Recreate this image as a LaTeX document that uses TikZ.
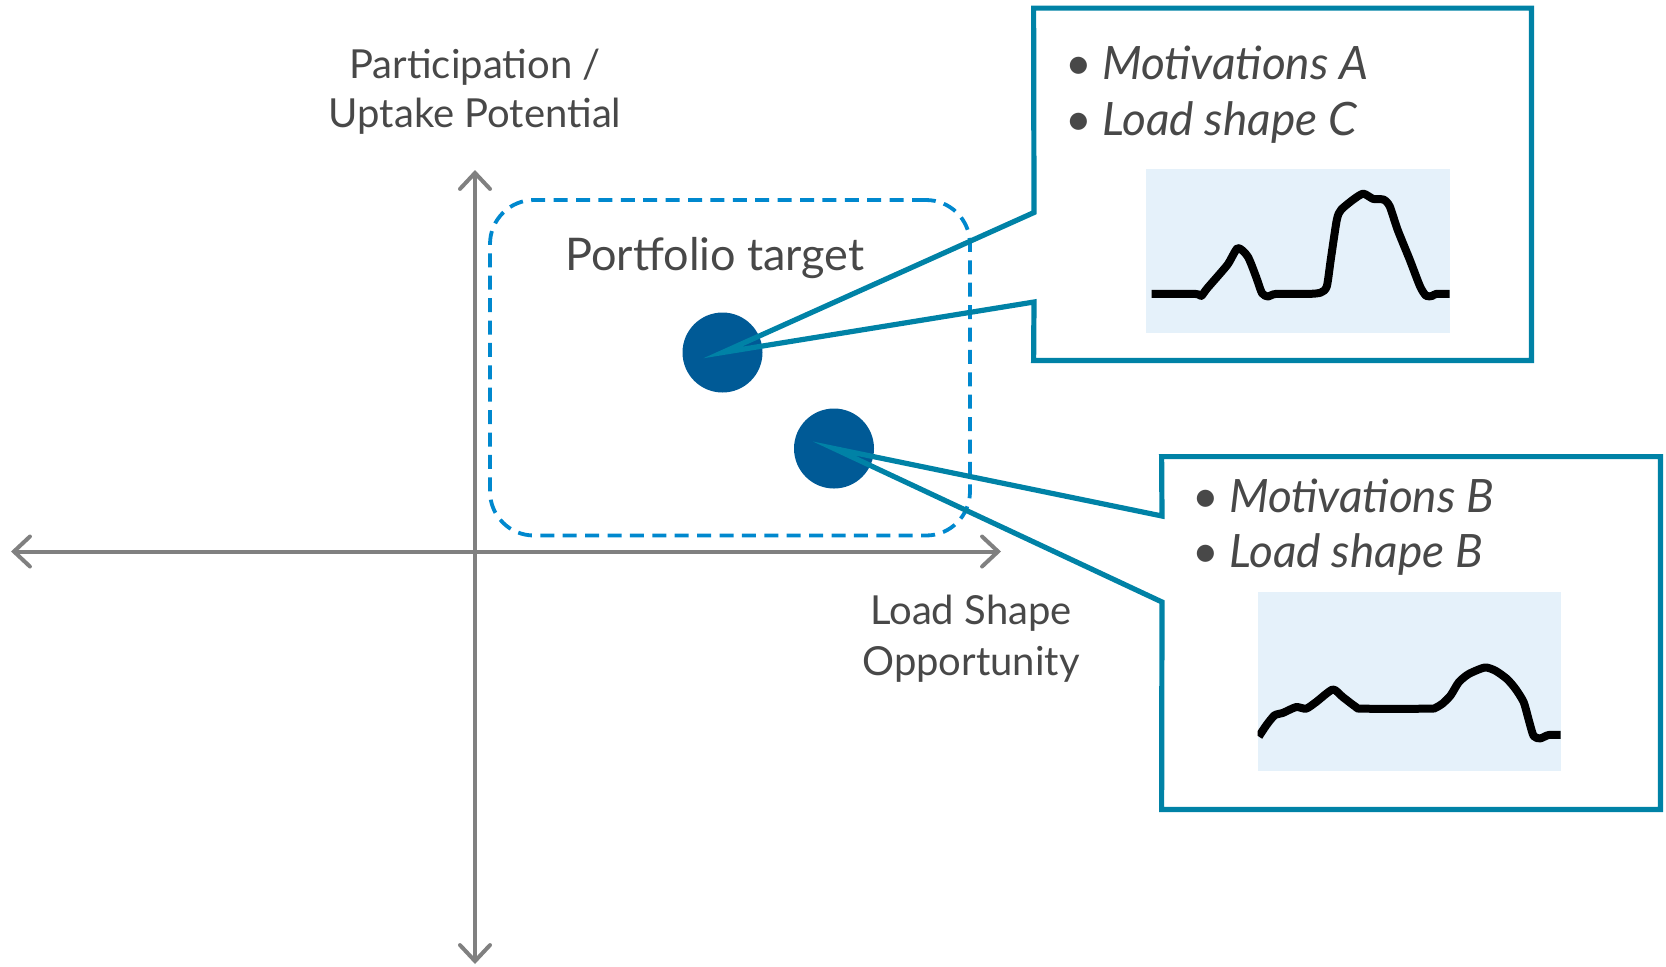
\documentclass[tikz,border=0pt]{standalone}
\usepackage{fontspec}
\setmainfont{Lato}
\usetikzlibrary{arrows.meta}
\definecolor{txtgray}{RGB}{72,72,72}
\definecolor{axisgray}{RGB}{128,128,128}
\definecolor{dashblue}{RGB}{0,136,206}
\definecolor{dotblue}{RGB}{0,90,150}
\definecolor{teal}{RGB}{0,130,166}
\definecolor{chartbg}{RGB}{229,241,250}
\begin{document}
\begin{tikzpicture}[x=0.5pt,y=-0.5pt,
  lbl/.style={text=txtgray, font=\fontsize{20}{24.5}\selectfont, align=center, inner sep=0},
  bullets/.style={text=txtgray, font=\fontsize{23}{28}\selectfont\itshape, align=left, inner sep=0, anchor=west},
  axis/.style={draw=axisgray, line width=2pt, {Straight Barb[length=8pt,width=15pt,line cap=round]}-{Straight Barb[length=8pt,width=15pt,line cap=round]}},
  target/.style={draw=dashblue, line width=1.9pt, dash pattern=on 7pt off 4.2pt, rounded corners=22pt, inner sep=0},
  dot/.style={circle, fill=dotblue, minimum size=40pt, inner sep=0},
  callout/.style={draw=teal, line width=2.6pt, line join=miter},
  chart/.style={fill=chartbg, inner sep=0},
  curve/.style={line width=4pt, line join=round, black}]
\useasboundingbox (0,0) rectangle (1666,966);

% axes
\coordinate (yT) at (475,170);
\coordinate (yB) at (475,964);
\coordinate (xL) at (11,551.5);
\coordinate (xR) at (1001,551.5);
\draw[axis] (yT) -- (yB);
\draw[axis] (xL) -- (xR);

\node[lbl] (ylab) at (475,91.5) {Participation /\\Uptake Potential};
\node[lbl, font=\fontsize{20}{25.5}\selectfont] (xlab) at (971,638.5) {Load Shape\\Opportunity};

% target region
\node[target, minimum width=240pt, minimum height=167.75pt] (region) at (730,367.75) {};
\node[lbl, font=\fontsize{22.5}{27}\selectfont] (rlab) at (715,258) {Portfolio target};

% segment dots
\node[dot] (dA) at (722.5,352.5) {};
\node[dot] (dB) at (834,448.5) {};

% callout A
\node[minimum width=248.5pt, minimum height=175.75pt, inner sep=0] (cA) at (1282.5,184.25) {};
\coordinate (nA1) at (1034,212.5);
\coordinate (nA2) at (1034,302);
\draw[callout] (nA1) -- (cA.north west) -- (cA.north east) -- (cA.south east)
  -- (cA.south west) -- (nA2) -- (dA.center) -- cycle;
\node[bullets] (tA) at (1065,95) {{\upshape\textbullet}\hspace{5pt}Motivations A\\{\upshape\textbullet}\hspace{5pt}Load shape C};

% callout B
\node[minimum width=249pt, minimum height=176pt, inner sep=0] (cB) at (1411,633) {};
\coordinate (nB1) at (1162,516);
\coordinate (nB2) at (1162,602);
\draw[callout] (nB1) -- (cB.north west) -- (cB.north east) -- (cB.south east)
  -- (cB.south west) -- (nB2) -- (dB.center) -- cycle;
\node[bullets, font=\fontsize{23}{27.5}\selectfont\itshape] (tB) at (1192,527) {{\upshape\textbullet}\hspace{5pt}Motivations B\\{\upshape\textbullet}\hspace{5pt}Load shape B};

% load shape C
\node[chart, minimum width=152pt, minimum height=82pt] (gA) at (1298,251) {};
\begin{scope}[shift={(gA.north west)}, x=152pt, y=-82pt]
  \clip (0,0) rectangle (1,1);
  \draw[curve] plot[smooth, tension=0.4] coordinates {
    (0.02,0.764) (0.163,0.764) (0.183,0.776) (0.203,0.729) (0.269,0.587)
    (0.303,0.485) (0.336,0.536) (0.363,0.658) (0.383,0.760) (0.403,0.780)
    (0.429,0.764) (0.536,0.764) (0.576,0.756) (0.596,0.719) (0.609,0.556)
    (0.629,0.312) (0.643,0.251) (0.683,0.189) (0.716,0.153) (0.749,0.185)
    (0.783,0.189) (0.803,0.230) (0.829,0.373) (0.869,0.556) (0.903,0.719)
    (0.923,0.776) (0.943,0.776) (0.956,0.764) (1.01,0.764)};
\end{scope}

% load shape B
\node[chart, minimum width=151.5pt, minimum height=89.5pt] (gB) at (1409.5,681.5) {};
\begin{scope}[shift={(gB.north west)}, x=151.5pt, y=-89.5pt]
  \clip (0,0) rectangle (1,1);
  \draw[curve] plot[smooth, tension=0.4] coordinates {
    (0.004,0.810) (0.029,0.746) (0.056,0.691) (0.083,0.678) (0.127,0.645)
    (0.160,0.654) (0.193,0.617) (0.248,0.547) (0.281,0.589) (0.325,0.645)
    (0.346,0.654) (0.566,0.654) (0.588,0.648) (0.610,0.626) (0.637,0.580)
    (0.664,0.506) (0.697,0.460) (0.750,0.424) (0.785,0.442) (0.823,0.488)
    (0.851,0.543) (0.878,0.617) (0.895,0.718) (0.911,0.807) (0.933,0.820)
    (0.961,0.801) (1.01,0.801)};
\end{scope}
\end{tikzpicture}
\end{document}
